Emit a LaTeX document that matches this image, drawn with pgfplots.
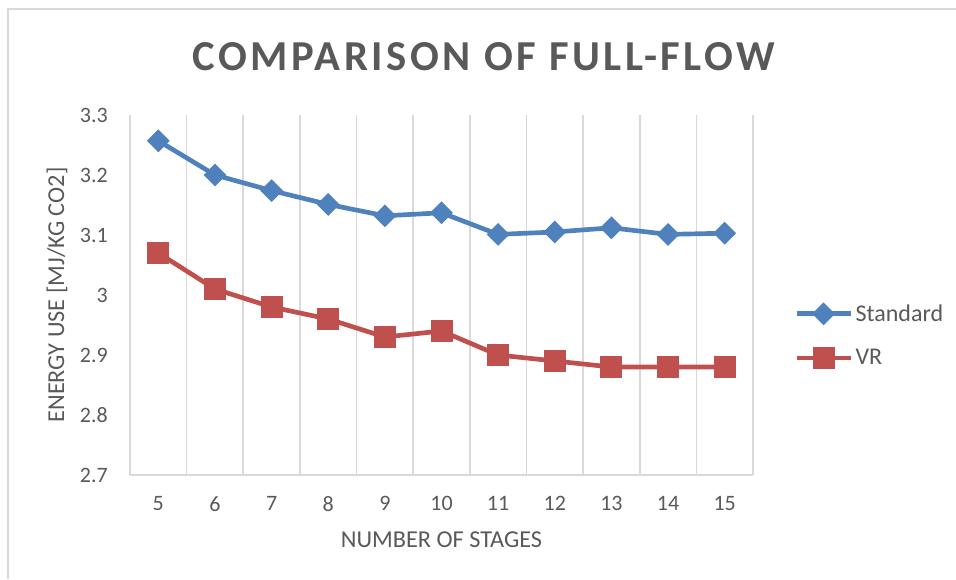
\documentclass[border=0pt]{standalone}
\usepackage{fontspec}
\setmainfont{Carlito}
\usepackage{pgfplots}
\pgfplotsset{compat=1.18}
\definecolor{stdblue}{HTML}{4F81BD}
\definecolor{vrred}{HTML}{C0504D}
\definecolor{txtgray}{HTML}{595959}
\definecolor{gridgray}{HTML}{D9D9D9}
\begin{document}
\begin{tikzpicture}
\useasboundingbox (0,0) rectangle (717pt,434.25pt);
\draw[gridgray, line width=1.5pt] (6pt,0) -- (6pt,427.5pt) -- (717pt,427.5pt);
\begin{axis}[
  at={(97.5pt,78pt)}, anchor=south west,
  scale only axis, width=467.25pt, height=270pt,
  xmin=4.5, xmax=15.5, ymin=2.7, ymax=3.3,
  xtick={5,...,15},
  ytick={2.7,2.8,2.9,3.0,3.1,3.2,3.3},
  minor xtick={4.5,5.5,...,15.5},
  xminorgrids,
  minor grid style={gridgray, line width=1.2pt},
  extra y ticks={2.7}, extra y tick labels={},
  extra y tick style={ymajorgrids, major grid style={gridgray, line width=1.5pt}},
  major tick length=0pt, minor tick length=0pt,
  axis line style={draw=none},
  /pgf/number format/assume math mode=true,
  /pgf/number format/fixed, /pgf/number format/precision=1,
  ticklabel style={font=\fontsize{16.5}{19}\selectfont, text=txtgray},
  yticklabel style={inner sep=0pt, xshift=-16.5pt, anchor=east},
  xticklabel style={inner sep=0pt, yshift=-15.75pt, anchor=north},
  xlabel={NUMBER OF STAGES},
  ylabel={ENERGY USE [MJ/KG CO2]},
  label style={font=\fontsize{18.2}{21}\selectfont, text=txtgray},
  xlabel style={at={(axis description cs:0.5,-0.1806)}, anchor=center},
  ylabel style={at={(axis description cs:-0.1172,0.5)}, anchor=center},
  title={\addfontfeature{LetterSpace=8.3}COMPARISON OF FULL-FLOW},
  title style={font=\bfseries\fontsize{32}{38}\selectfont, text=txtgray, at={(axis description cs:0.568,1.140)}, anchor=center},
  legend style={draw=none, fill=none, at={(axis description cs:1.0658,0.3875)}, anchor=west,
    font=\fontsize{18}{21}\selectfont, text=txtgray, inner sep=0pt, row sep=15.5pt,
    nodes={inner sep=2pt, anchor=west}},
  legend cell align=left,
  legend image code/.code={\draw[mark repeat=2, mark phase=2] plot coordinates {(0pt,0pt) (20.25pt,0pt) (40.5pt,0pt)};},
]
\addplot[stdblue, line width=3.5pt, mark=square*, mark size=4.3pt, mark options={rotate=45, solid}] coordinates {
(5,3.257) (6,3.200) (7,3.174) (8,3.151) (9,3.132) (10,3.137) (11,3.101) (12,3.105) (13,3.112) (14,3.101) (15,3.103)};
\addlegendentry{Standard}
\addplot[vrred, line width=3.5pt, mark=square*, mark size=6.5pt, mark options={solid}] coordinates {
(5,3.07) (6,3.01) (7,2.98) (8,2.96) (9,2.93) (10,2.94) (11,2.90) (12,2.89) (13,2.88) (14,2.88) (15,2.88)};
\addlegendentry{VR}
\end{axis}
\end{tikzpicture}
\end{document}
